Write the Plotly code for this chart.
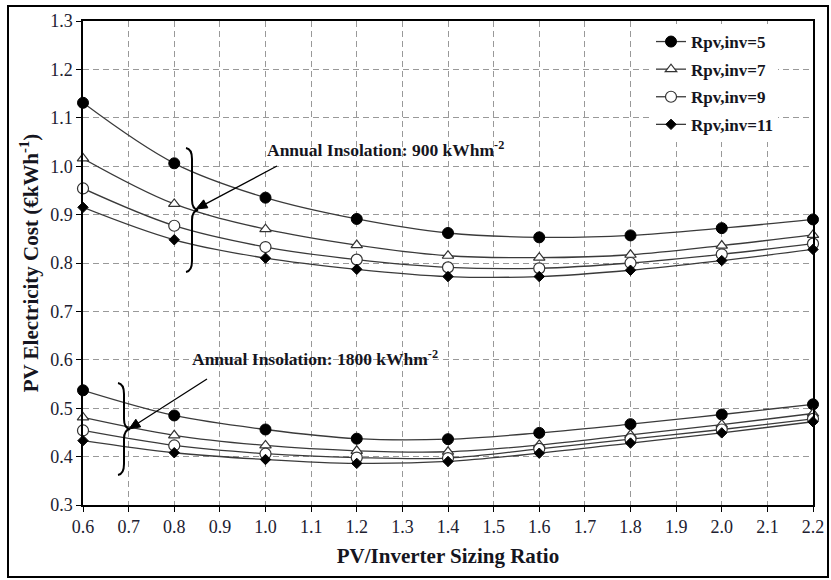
import math
import plotly.graph_objects as go

# ---------------- data ----------------
sizing_ratio = [0.6, 0.8, 1.0, 1.2, 1.4, 1.6, 1.8, 2.0, 2.2]

series_names = ["Rpv,inv=5", "Rpv,inv=7", "Rpv,inv=9", "Rpv,inv=11"]

# Annual insolation 900 kWh/m2
cost_900_r5 = [1.131, 1.006, 0.935, 0.891, 0.862, 0.853, 0.857, 0.872, 0.890]
cost_900_r7 = [1.016, 0.922, 0.870, 0.837, 0.815, 0.811, 0.817, 0.836, 0.858]
cost_900_r9 = [0.954, 0.877, 0.833, 0.807, 0.791, 0.789, 0.800, 0.818, 0.840]
cost_900_r11 = [0.915, 0.848, 0.810, 0.787, 0.772, 0.772, 0.785, 0.805, 0.828]

# Annual insolation 1800 kWh/m2
cost_1800_r5 = [0.537, 0.485, 0.456, 0.437, 0.436, 0.449, 0.467, 0.487, 0.508]
cost_1800_r7 = [0.481, 0.444, 0.423, 0.412, 0.410, 0.424, 0.445, 0.466, 0.489]
cost_1800_r9 = [0.454, 0.423, 0.406, 0.398, 0.397, 0.416, 0.436, 0.456, 0.478]
cost_1800_r11 = [0.433, 0.408, 0.394, 0.386, 0.390, 0.407, 0.428, 0.449, 0.472]

x_ticks = [round(0.6 + 0.1 * i, 1) for i in range(17)]
x_tick_labels = [f"{v:.1f}" for v in x_ticks]
y_ticks = [round(0.3 + 0.1 * i, 1) for i in range(11)]
y_tick_labels = ["0.3", "0.4", "0.5", "0.6", "0.7", "0.8", "0.9", "1.0", "1.1", "1.2", "1.3"]

x_title = "PV/Inverter Sizing Ratio"
y_title = "PV Electricity Cost (€kWh<sup>-1</sup>)"

# ---------------- style ----------------
W, H = 831, 580
ML, MR, MT, MB = 83, 18, 21, 75
XR = [0.6, 2.2]
YR = [0.3, 1.3]
SERIF = "Liberation Serif"
LINE_COL = "#3a3a3a"
TEXT_COL = "#151520"

marker_styles = [
    dict(symbol="circle", size=11, color="black", line=dict(color="black", width=1)),
    dict(symbol="triangle-up", size=10, color="white", line=dict(color="#333", width=1.2)),
    dict(symbol="circle", size=11, color="white", line=dict(color="#333", width=1.2)),
    dict(symbol="diamond", size=8, color="black", line=dict(color="black", width=1)),
]

upper = [cost_900_r5, cost_900_r7, cost_900_r9, cost_900_r11]
lower = [cost_1800_r5, cost_1800_r7, cost_1800_r9, cost_1800_r11]

fig = go.Figure()
for i, name in enumerate(series_names):
    for j, ys in enumerate([upper[i], lower[i]]):
        fig.add_trace(go.Scatter(
            x=sizing_ratio, y=ys, name=name,
            mode="lines+markers",
            line=dict(color=LINE_COL, width=1.3, shape="spline", smoothing=1.0),
            marker=marker_styles[i],
            legendgroup=name, showlegend=(j == 0),
            cliponaxis=False,
        ))

# pixel -> data helpers for decorations
pw = W - ML - MR
ph = H - MT - MB


def px2x(px):
    return XR[0] + (px - ML) / pw * (XR[1] - XR[0])


def py2y(py):
    return YR[1] - (py - MT) / ph * (YR[1] - YR[0])


def px2paper_x(px):
    return (px - ML) / pw


def py2paper_y(py):
    return (H - MB - py) / ph


def to_path(cmds):
    s = ""
    for cmd, plist in cmds:
        s += cmd + " " + " ".join(f"{px2x(a):.5f},{py2y(b):.5f}" for a, b in plist) + " "
    return s.strip()


def brace_path(top, stem_x, cusp, bottom):
    tx, ty = top
    cx, cy = cusp
    bx, by = bottom
    return to_path([
        ("M", [(tx, ty)]),
        ("Q", [(stem_x, ty + 1), (stem_x, ty + 11)]),
        ("L", [(stem_x, cy - 10)]),
        ("Q", [(stem_x, cy - 1), (cx, cy)]),
        ("Q", [(stem_x, cy + 1), (stem_x, cy + 10)]),
        ("L", [(stem_x, by - 11)]),
        ("Q", [(stem_x, by - 1), (bx, by)]),
    ])


def arrow_shapes(tail, head, head_len=11, head_w=4.5):
    (x0, y0), (x1, y1) = tail, head
    d = math.hypot(x1 - x0, y1 - y0)
    ux, uy = (x1 - x0) / d, (y1 - y0) / d
    bx, by = x1 - ux * head_len, y1 - uy * head_len
    nx, ny = -uy, ux
    line = dict(type="line", xref="x", yref="y",
                x0=px2x(x0), y0=py2y(y0), x1=px2x(bx), y1=py2y(by),
                line=dict(color="black", width=1.3))
    tri = dict(type="path", xref="x", yref="y",
               path=to_path([("M", [(x1, y1)]),
                             ("L", [(bx + nx * head_w, by + ny * head_w)]),
                             ("L", [(bx - nx * head_w, by - ny * head_w)])]) + " Z",
               line=dict(color="black", width=1), fillcolor="black")
    return [line, tri]


shapes = [
    dict(type="path", xref="x", yref="y",
         path=brace_path((186, 148), 192, (198, 210), (186, 272)),
         line=dict(color="black", width=2)),
    dict(type="path", xref="x", yref="y",
         path=brace_path((118, 383), 124, (130, 429), (118, 475)),
         line=dict(color="black", width=2)),
    # outer frame
    dict(type="rect", xref="paper", yref="paper",
         x0=px2paper_x(8), x1=px2paper_x(828), y0=py2paper_y(577), y1=py2paper_y(6),
         line=dict(color="black", width=2), fillcolor="rgba(0,0,0,0)", layer="above"),
]
shapes += arrow_shapes((277, 166), (196, 209))
shapes += arrow_shapes((207, 379), (129, 429))

annotations = [
    dict(x=px2x(265), y=py2y(149), xref="x", yref="y", xanchor="left", yanchor="middle",
         text="Annual Insolation: 900 kWhm<sup>-2</sup>", showarrow=False,
         font=dict(family=SERIF, size=17.5, color=TEXT_COL, weight="bold")),
    dict(x=px2x(190), y=py2y(358), xref="x", yref="y", xanchor="left", yanchor="middle",
         text="Annual Insolation: 1800 kWhm<sup>-2</sup>", showarrow=False,
         font=dict(family=SERIF, size=17.5, color=TEXT_COL, weight="bold")),
]

axis_common = dict(
    showgrid=True, gridcolor="#999999", gridwidth=1, griddash="6px,4px",
    showline=True, linecolor="black", linewidth=1.5, mirror=True,
    ticks="outside", ticklen=5, tickcolor="black", tickwidth=1,
    zeroline=False, automargin=False,
    tickfont=dict(family=SERIF, size=18, color="#202030"),
)
title_font = dict(family=SERIF, size=21, color=TEXT_COL, weight="bold")

fig.update_layout(
    width=W, height=H,
    margin=dict(l=ML, r=MR, t=MT, b=MB),
    paper_bgcolor="white", plot_bgcolor="white",
    xaxis=dict(range=XR, tickvals=x_ticks, ticktext=x_tick_labels,
               title=dict(text=x_title, font=title_font, standoff=12), **axis_common),
    yaxis=dict(range=YR, tickvals=y_ticks, ticktext=y_tick_labels,
               title=dict(text=y_title, font=title_font, standoff=6), **axis_common),
    legend=dict(x=px2paper_x(651), y=py2paper_y(24), xanchor="left", yanchor="top",
                bgcolor="white", borderwidth=0, tracegroupgap=2.5,
                font=dict(family=SERIF, size=17, color=TEXT_COL, weight="bold")),
    shapes=shapes,
    annotations=annotations,
    showlegend=True,
)

fig.write_html("out.html")
